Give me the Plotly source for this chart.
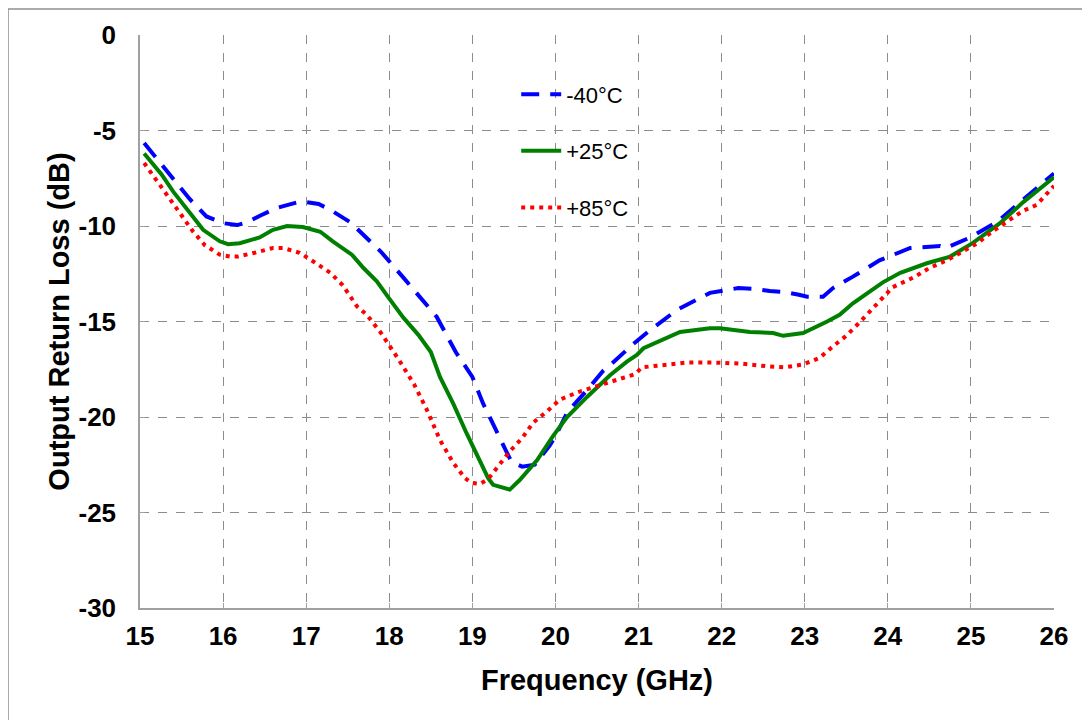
import plotly.graph_objects as go

# -40°C
f_m40 = [15.05, 15.4, 15.6, 15.8, 16.0, 16.17, 16.29, 16.45, 16.65, 16.9, 17.0, 17.15, 17.29, 17.53, 17.7, 17.9,
         18.17, 18.4, 18.57, 18.8, 19.0, 19.13, 19.3, 19.47, 19.6, 19.75, 19.93, 20.0, 20.15, 20.38, 20.57, 20.68,
         20.93, 21.14, 21.46, 21.86, 22.2, 22.4, 22.58, 22.75, 22.93, 23.03, 23.22, 23.34, 23.58, 23.9, 24.27,
         24.63, 24.7, 24.99, 25.31, 25.59, 25.92, 26.0]
rl_m40 = [-5.65, -7.5, -8.6, -9.5, -9.85, -9.95, -9.8, -9.45, -9.05, -8.75, -8.75, -8.85, -9.15, -9.8, -10.5, -11.35,
          -12.7, -13.9, -14.75, -16.6, -17.9, -19.3, -20.8, -22.35, -22.6, -22.5, -21.5, -21.0, -19.7, -18.6, -17.6, -17.2,
          -16.2, -15.45, -14.4, -13.5, -13.25, -13.3, -13.4, -13.45, -13.6, -13.7, -13.7, -13.25, -12.65, -11.8, -11.15,
          -11.05, -11.15, -10.6, -9.8, -8.75, -7.5, -7.25]

# +25°C
f_p25 = [15.05, 15.26, 15.4, 15.58, 15.76, 15.96, 16.06, 16.2, 16.44, 16.6, 16.77, 16.96, 17.17, 17.32, 17.55,
         17.69, 17.85, 18.0, 18.17, 18.35, 18.5, 18.61, 18.77, 18.93, 19.09, 19.19, 19.25, 19.35, 19.45, 19.57,
         19.78, 19.97, 20.14, 20.38, 20.57, 20.66, 20.86, 20.98, 21.06, 21.34, 21.5, 21.86, 21.98, 22.34, 22.62,
         22.74, 22.98, 23.27, 23.42, 23.58, 23.94, 24.15, 24.47, 24.75, 25.02, 25.35, 25.63, 26.0]
rl_p25 = [-6.2, -7.3, -8.2, -9.2, -10.2, -10.8, -10.95, -10.9, -10.6, -10.2, -10.0, -10.05, -10.3, -10.8, -11.5,
          -12.2, -12.9, -13.8, -14.8, -15.7, -16.6, -17.9, -19.3, -20.85, -22.25, -23.2, -23.55, -23.7, -23.8, -23.3,
          -22.25, -21.0, -20.0, -18.95, -18.2, -17.8, -17.1, -16.75, -16.4, -15.85, -15.55, -15.35, -15.35, -15.55, -15.6,
          -15.75, -15.6, -15.0, -14.65, -14.05, -12.95, -12.45, -11.95, -11.6, -10.9, -9.85, -8.75, -7.45]

# +85°C
f_p85 = [15.05, 15.26, 15.38, 15.52, 15.64, 15.78, 15.96, 16.08, 16.18, 16.38, 16.6, 16.72, 16.92, 17.1, 17.29,
         17.44, 17.61, 17.73, 17.9, 18.1, 18.3, 18.45, 18.61, 18.77, 18.91, 18.99, 19.09, 19.19, 19.33, 19.45,
         19.6, 19.73, 19.9, 20.05, 20.27, 20.57, 20.75, 20.96, 21.04, 21.26, 21.58, 21.9, 22.22, 22.56, 22.76,
         22.98, 23.18, 23.34, 23.5, 23.67, 23.88, 24.06, 24.33, 24.5, 24.71, 24.9, 25.08, 25.27, 25.43, 25.63,
         25.79, 25.89, 26.0]
rl_p85 = [-6.7, -7.95, -8.75, -9.5, -10.3, -11.0, -11.5, -11.6, -11.6, -11.4, -11.15, -11.15, -11.4, -11.9, -12.45,
          -13.1, -14.2, -14.65, -15.6, -16.9, -18.3, -19.6, -21.2, -22.4, -23.2, -23.45, -23.5, -23.25, -22.5, -21.8,
          -21.1, -20.3, -19.7, -19.1, -18.7, -18.3, -18.05, -17.75, -17.4, -17.3, -17.15, -17.15, -17.2, -17.35, -17.4,
          -17.25, -16.9, -16.3, -15.75, -15.0, -14.05, -13.2, -12.65, -12.2, -11.8, -11.35, -10.9, -10.25, -9.8, -9.2,
          -8.9, -8.4, -7.9]

x_ticks = list(range(15, 27))
y_ticks = [0, -5, -10, -15, -20, -25, -30]

FONT = "Liberation Sans, Arial, sans-serif"

fig = go.Figure()
fig.add_trace(go.Scatter(x=f_m40, y=rl_m40, mode="lines", name="-40°C", legendgroup="a",
                         line=dict(color="#0000FF", width=4, dash="18px,11px")))
fig.add_trace(go.Scatter(x=f_p25, y=rl_p25, mode="lines", name="+25°C", legendgroup="b",
                         line=dict(color="#008000", width=4)))
fig.add_trace(go.Scatter(x=f_p85, y=rl_p85, mode="lines", name="+85°C", legendgroup="c",
                         line=dict(color="#FF0000", width=4, dash="4px,5px")))

# page body has an 8px margin: figure is 1082x712 placed at (8,8)
fig.update_layout(
    width=1082, height=712,
    margin=dict(l=132, r=36, t=27, b=112),
    paper_bgcolor="white", plot_bgcolor="white",
    font=dict(family=FONT, color="black"),
    showlegend=True,
    legend=dict(x=0.4116, y=0.933, xanchor="left", yanchor="top", bgcolor="rgba(0,0,0,0)",
                font=dict(size=22, family=FONT), tracegroupgap=25, itemwidth=40),
)
fig.update_xaxes(range=[15, 26], tickvals=x_ticks, ticktext=[str(v) for v in x_ticks],
                 showgrid=True, gridcolor="#8C8C8C", griddash="dash", gridwidth=1,
                 showline=True, linecolor="#A0A0A0", linewidth=1.5, zeroline=False,
                 ticks="inside", ticklen=5, tickcolor="#A0A0A0", ticklabelstandoff=4,
                 tickfont=dict(size=26, family=FONT, color="black", weight="bold"),
                 title=dict(text="Frequency (GHz)", font=dict(size=29, family=FONT, weight="bold"), standoff=20))
fig.update_yaxes(range=[-30, 0], tickvals=y_ticks, ticktext=[str(v) for v in y_ticks],
                 showgrid=True, gridcolor="#8C8C8C", griddash="dash", gridwidth=1,
                 showline=True, linecolor="#A0A0A0", linewidth=1.5, zeroline=False,
                 ticks="inside", ticklen=5, tickcolor="#A0A0A0", ticklabelstandoff=17,
                 tickfont=dict(size=26, family=FONT, color="black", weight="bold"),
                 title=dict(text="Output Return Loss (dB)", font=dict(size=29, family=FONT, weight="bold"), standoff=0))

# chart area frame
fig.add_shape(type="rect", xref="paper", yref="paper", x0=-0.1444, x1=1.06, y0=-0.21, y1=1.0454,
              line=dict(color="#909090", width=1.5), layer="below")
# title (mostly above the visible page, as in the reference)
fig.add_annotation(text="Output Return Loss vs. Frequency over Temperature", xref="paper", yref="paper",
                   x=0.37, y=1.057, xanchor="center", yanchor="bottom", showarrow=False,
                   font=dict(size=22, family=FONT, weight="bold", color="black"))

fig.write_html("out.html")
